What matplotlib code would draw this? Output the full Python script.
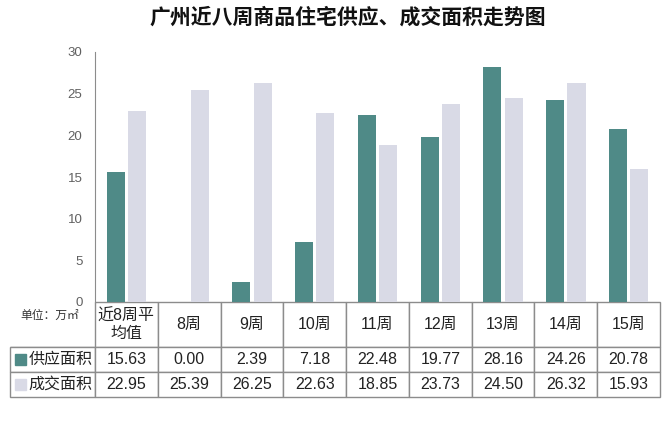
import matplotlib
matplotlib.use("Agg")
import matplotlib.pyplot as plt
import numpy as np

plt.rcParams["font.family"] = ["Liberation Sans", "Noto Sans CJK SC", "DejaVu Sans"]

# 数据
weeks = ["近8周平\n均值", "8周", "9周", "10周", "11周", "12周", "13周", "14周", "15周"]
supply = [15.63, 0.00, 2.39, 7.18, 22.48, 19.77, 28.16, 24.26, 20.78]
deal = [22.95, 25.39, 26.25, 22.63, 18.85, 23.73, 24.50, 26.32, 15.93]
series_names = ["供应面积", "成交面积"]
yticks = [0, 5, 10, 15, 20, 25, 30]

c_supply = "#4f8a87"
c_deal = "#d9dae6"
c_grid = "#8c8c8c"

W, H = 663, 425
fig = plt.figure(figsize=(W / 100, H / 100), dpi=100)
ax_l, ax_r, ax_t, ax_b = 95, 660, 52, 302
ax = fig.add_axes([ax_l / W, 1 - ax_b / H, (ax_r - ax_l) / W, (ax_b - ax_t) / H])

x = np.arange(len(weeks))
bw = 0.29
ax.bar(x - 0.17, supply, bw, color=c_supply)
ax.bar(x + 0.17, deal, bw, color=c_deal)

ax.set_xlim(-0.5, len(weeks) - 0.5)
ax.set_ylim(0, 30)
ax.set_yticks(yticks)
ax.set_xticks([])
ax.tick_params(axis="y", length=0, labelsize=9.5, labelcolor="#606060", pad=9)
for s in ["top", "right", "bottom"]:
    ax.spines[s].set_visible(False)
ax.spines["left"].set_color(c_grid)

fig.text(348 / W, 1 - 17 / H, "广州近八周商品住宅供应、成交面积走势图",
         ha="center", va="center", fontsize=15, fontweight="bold",
         color="#111111", family=["Noto Sans CJK SC"])

# 表格
ncol = len(weeks)
pw = ax_r - ax_l
label_w = (ax_l - 10) / pw
rows = [
    [""] + weeks,
    series_names[:1] + [f"{v:.2f}" for v in supply],
    series_names[1:] + [f"{v:.2f}" for v in deal],
]
tbl = ax.table(cellText=rows, cellLoc="center",
               colWidths=[label_w] + [1 / ncol] * ncol,
               bbox=[-label_w, -95 / 250, 1 + label_w, 95 / 250])
tbl.auto_set_font_size(False)
tbl.set_fontsize(11.5)
for (r, c), cell in tbl.get_celld().items():
    cell.set_edgecolor(c_grid)
    cell.set_linewidth(1.0)
    cell.get_text().set_color("#222222")
    cell.set_height(45 if r == 0 else 25)
    if r == 0 and c == 0:
        cell.visible_edges = "B"
    if c == 0 and r > 0:
        cell.get_text().set_ha("right")
        cell._loc = "right"
        cell.PAD = 0.03

# 单位
ax.text(-(ax_l - 20) / pw, -7 / 250, "单位：万㎡",
        transform=ax.transAxes, ha="left", va="top", fontsize=8.5,
        color="#333333", family=["Noto Sans CJK SC"])
# 图例色块
for i, col in enumerate([c_supply, c_deal]):
    yy = -(45 + 25 * i + 12.5) / 250
    ax.add_patch(plt.Rectangle((-label_w + 5 / pw, yy - 5 / 250), 11 / pw, 11 / 250,
                               transform=ax.transAxes, color=col,
                               clip_on=False))

fig.savefig("out.png", dpi=100)
